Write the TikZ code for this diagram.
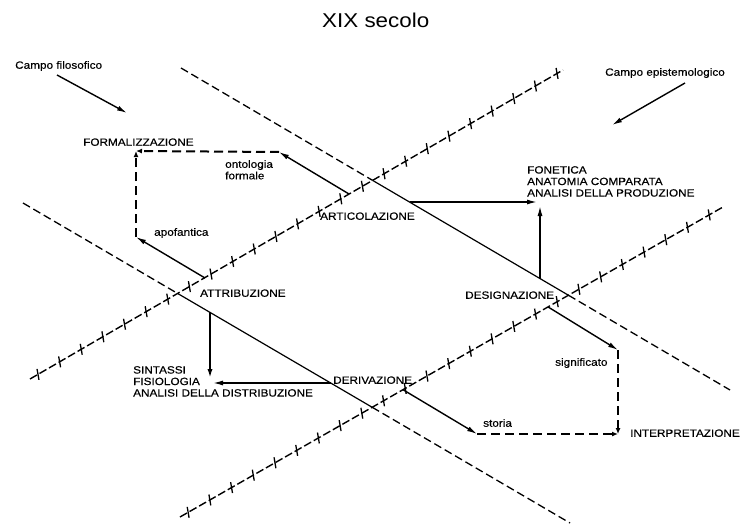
\documentclass[tikz,border=0pt]{standalone}
\usepackage{fontspec}
\newfontfamily\lab[FakeStretch=1.12,FakeBold=0.4]{Liberation Sans}
\newfontfamily\ttl[FakeStretch=1.12]{Liberation Sans}
\usetikzlibrary{arrows.meta,decorations.markings}
\begin{document}
\begin{tikzpicture}[x=1pt,y=-1pt,
  lbl/.style={font=\lab\fontsize{10.5}{12}\selectfont, inner sep=0pt, text height=7.5pt, text depth=0pt, anchor=west},
  blk/.style={font=\lab\fontsize{10.5}{11.5}\selectfont, inner sep=0pt, align=left, anchor=north west},
  bound/.style={line width=1.3pt, dash pattern=on 8pt off 4pt},
  seg/.style={line width=1.2pt},
  crossline/.style={line width=1.4pt, dash pattern=on 8pt off 3pt, postaction={decorate},
    decoration={markings, mark=between positions 0.015 and 1 step 25pt with {\draw[solid,line width=1.3pt] (-1.9pt,-5.2pt) -- (1.9pt,5.2pt);}}},
  arr/.style={line width=1.4pt, -{Latex[length=10pt,width=5pt]}},
  link/.style={line width=2pt, dash pattern=on 9pt off 5pt, -{Latex[length=6pt,width=5pt]}}
]
\useasboundingbox (0,0) rectangle (741,524);
% main lines
\coordinate (A1) at (181,68);
\coordinate (A2) at (730,390);
\coordinate (B1) at (23,203);
\coordinate (B2) at (570,523);
\coordinate (C1) at (30,379);
\coordinate (C2) at (563,70);
\coordinate (D1) at (180,517);
\coordinate (D2) at (723,207);
\coordinate (T) at (intersection of A1--A2 and C1--C2);
\coordinate (R) at (intersection of A1--A2 and D1--D2);
\coordinate (L) at (intersection of B1--B2 and C1--C2);
\coordinate (Bo) at (intersection of B1--B2 and D1--D2);
\draw[crossline] (C1) -- (C2);
\draw[crossline] (D1) -- (D2);
\draw[bound] (A1) -- (T);
\draw[seg] (T) -- (R);
\draw[bound] (R) -- (A2);
\draw[bound] (B1) -- (L);
\draw[seg] (L) -- (Bo);
\draw[bound] (Bo) -- (B2);
% arrow end points
\coordinate (cf1) at (57,75);
\coordinate (cf2) at (127,113);
\coordinate (ce1) at (685,83);
\coordinate (ce2) at (612,125);
\coordinate (on1) at (349,194);
\coordinate (on2) at (279,152);
\coordinate (F) at (136,151);
\coordinate (ap1) at (205,278);
\coordinate (ap2) at (136,237);
\coordinate (ar1) at (409.5,202);
\coordinate (ar2) at (537,202);
\coordinate (fo1) at (540,278.6);
\coordinate (fo2) at (540,206);
\coordinate (at1) at (210,312.4);
\coordinate (at2) at (210,379);
\coordinate (de1) at (330.7,383);
\coordinate (de2) at (213,383);
\coordinate (si1) at (548,306.9);
\coordinate (si2) at (618,350);
\coordinate (I) at (618,434);
\coordinate (st1) at (403,389.7);
\coordinate (st2) at (477,434);
\draw[arr] (cf1) -- (cf2);
\draw[arr] (ce1) -- (ce2);
\draw[arr] (on1) -- (on2);
\draw[link] (on2) -- (F);
\draw[arr] (ap1) -- (ap2);
\draw[link] (ap2) -- (F);
\draw[arr] (ar1) -- (ar2);
\draw[arr] (fo1) -- (fo2);
\draw[arr, line width=2pt] (at1) -- (at2);
\draw[arr] (de1) -- (de2);
\draw[arr] (si1) -- (si2);
\draw[link] (si2) -- (I);
\draw[arr] (st1) -- (st2);
\draw[link] (st2) -- (I);
% labels
\node[lbl, font=\ttl\fontsize{20}{24}\selectfont, text height=14pt] (title) at (322,21) {XIX secolo};
\node[lbl] (cf) at (15,65) {Campo filosofico};
\node[lbl] (ce) at (605,72) {Campo epistemologico};
\node[lbl] (formal) at (83,142) {FORMALIZZAZIONE};
\node[blk] (onto) at (225,160) {ontologia\\formale};
\node[lbl] (apof) at (154,232) {apofantica};
\node[lbl] (artic) at (320,216) {ARTICOLAZIONE};
\node[blk] (fon) at (527,166) {FONETICA\\ANATOMIA COMPARATA\\ANALISI DELLA PRODUZIONE};
\node[lbl] (desig) at (465,295) {DESIGNAZIONE};
\node[lbl] (attr) at (200,293) {ATTRIBUZIONE};
\node[blk] (sint) at (133,366) {SINTASSI\\FISIOLOGIA\\ANALISI DELLA DISTRIBUZIONE};
\node[lbl] (deriv) at (333,380) {DERIVAZIONE};
\node[lbl] (sig) at (555,362) {significato};
\node[lbl] (stor) at (483,423) {storia};
\node[lbl] (interp) at (630,433) {INTERPRETAZIONE};
\end{tikzpicture}
\end{document}
